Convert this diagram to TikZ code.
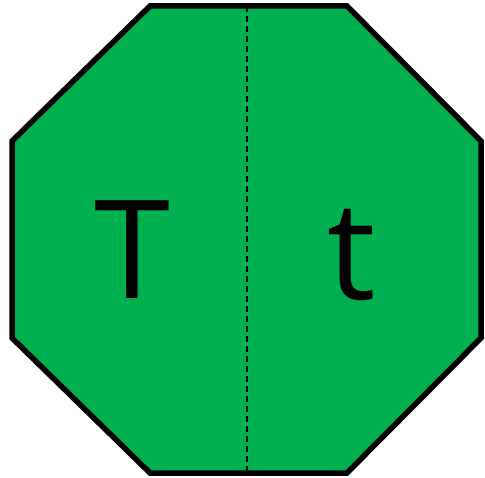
\documentclass[tikz,border=0pt]{standalone}
\usepackage{fontspec}
\setmainfont{Open Sans}
\definecolor{octgreen}{HTML}{00B050}
\tikzset{
  octagon/.style={draw=black, fill=octgreen, line width=5.5pt, line join=miter},
  divider/.style={draw=black, line width=1.5pt, dash pattern=on 6pt off 4pt},
  letter/.style={inner sep=0pt, anchor=base, font=\fontsize{137}{137}\selectfont}
}
\begin{document}
\begin{tikzpicture}[x=1pt,y=-1pt]
\useasboundingbox (0,0) rectangle (485,478);
\coordinate (p1) at (150,6);
\coordinate (p2) at (347,6);
\coordinate (p3) at (481,141);
\coordinate (p4) at (481,338);
\coordinate (p5) at (347,473);
\coordinate (p6) at (150,473);
\coordinate (p7) at (12,338);
\coordinate (p8) at (12,141);
\path[octagon] (p1) -- (p2) -- (p3) -- (p4) -- (p5) -- (p6) -- (p7) -- (p8) -- cycle;
\coordinate (dtop) at (247,6);
\coordinate (dbot) at (247,473);
\path[divider] (dtop) -- (dbot);
\node[letter] (T) at (132,299) {T};
\node[letter] (t) at (352,300) {t};
\end{tikzpicture}
\end{document}
